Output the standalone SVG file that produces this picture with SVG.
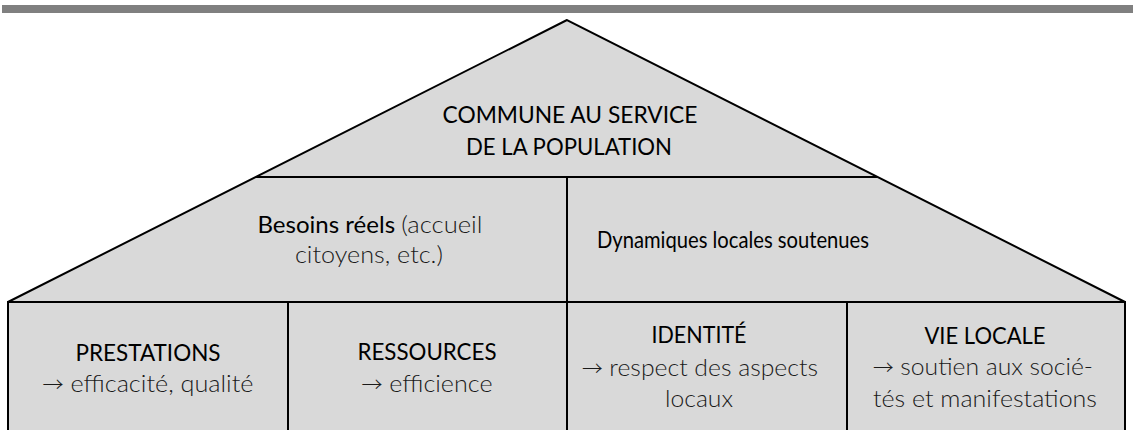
<svg xmlns="http://www.w3.org/2000/svg" width="1135" height="430" viewBox="0 0 1135 430">
<style>
.sh{fill:#d9d9d9;stroke:#000;stroke-width:2;stroke-linejoin:miter}
.ln{stroke:#000;stroke-width:2;fill:none}
text{font-family:Lato,"Open Sans",sans-serif;font-size:22.5px;fill:#000;text-anchor:middle}
.lt{font-weight:300;font-size:24px;fill:#1a1a1a}
.ar{font-family:"Noto Sans CJK SC","DejaVu Sans",sans-serif;font-weight:300;font-size:20px}
</style>
<rect x="2" y="5" width="1131" height="8" fill="#808080"/>
<g id="roof">
<polygon class="sh" points="567,20 8,302 1125,302"/>
<text x="570" y="123" textLength="255" lengthAdjust="spacingAndGlyphs">COMMUNE AU SERVICE</text>
<text x="569" y="155" textLength="206" lengthAdjust="spacingAndGlyphs">DE LA POPULATION</text>
</g>
<g id="besoins">
<text x="370" y="233" textLength="225" lengthAdjust="spacingAndGlyphs">Besoins réels <tspan class="lt">(accueil</tspan></text>
<text class="lt" x="369" y="263" textLength="148" lengthAdjust="spacingAndGlyphs">citoyens, etc.)</text>
</g>
<g id="dynamiques">
<text x="733" y="248" textLength="272" lengthAdjust="spacingAndGlyphs">Dynamiques locales soutenues</text>
</g>
<g id="prestations">
<rect class="sh" x="8" y="302" width="280" height="132"/>
<text x="148" y="361" textLength="145" lengthAdjust="spacingAndGlyphs">PRESTATIONS</text>
<text class="lt" x="148" y="392" textLength="211" lengthAdjust="spacingAndGlyphs"><tspan class="ar">→</tspan> efficacité, qualité</text>
</g>
<g id="ressources">
<rect class="sh" x="288" y="302" width="279" height="132"/>
<text x="427" y="360" textLength="139" lengthAdjust="spacingAndGlyphs">RESSOURCES</text>
<text class="lt" x="427" y="392" textLength="131" lengthAdjust="spacingAndGlyphs"><tspan class="ar">→</tspan> efficience</text>
</g>
<g id="identite">
<rect class="sh" x="567" y="302" width="280" height="132"/>
<text x="699" y="343" textLength="95" lengthAdjust="spacingAndGlyphs">IDENTITÉ</text>
<text class="lt" x="700" y="376" textLength="236" lengthAdjust="spacingAndGlyphs"><tspan class="ar">→</tspan> respect des aspects</text>
<text class="lt" x="699" y="407" textLength="68" lengthAdjust="spacingAndGlyphs">locaux</text>
</g>
<g id="vielocale">
<rect class="sh" x="847" y="302" width="278" height="132"/>
<text x="985" y="344" textLength="121" lengthAdjust="spacingAndGlyphs">VIE LOCALE</text>
<text class="lt" x="983" y="375" textLength="220" lengthAdjust="spacingAndGlyphs"><tspan class="ar">→</tspan> soutien aux socié-</text>
<text class="lt" x="985" y="407" textLength="224" lengthAdjust="spacingAndGlyphs">tés et manifestations</text>
</g>
<g id="connectors">
<line class="ln" x1="256" y1="177" x2="877" y2="177"/>
<line class="ln" x1="567" y1="177" x2="567" y2="302"/>
</g>
</svg>
